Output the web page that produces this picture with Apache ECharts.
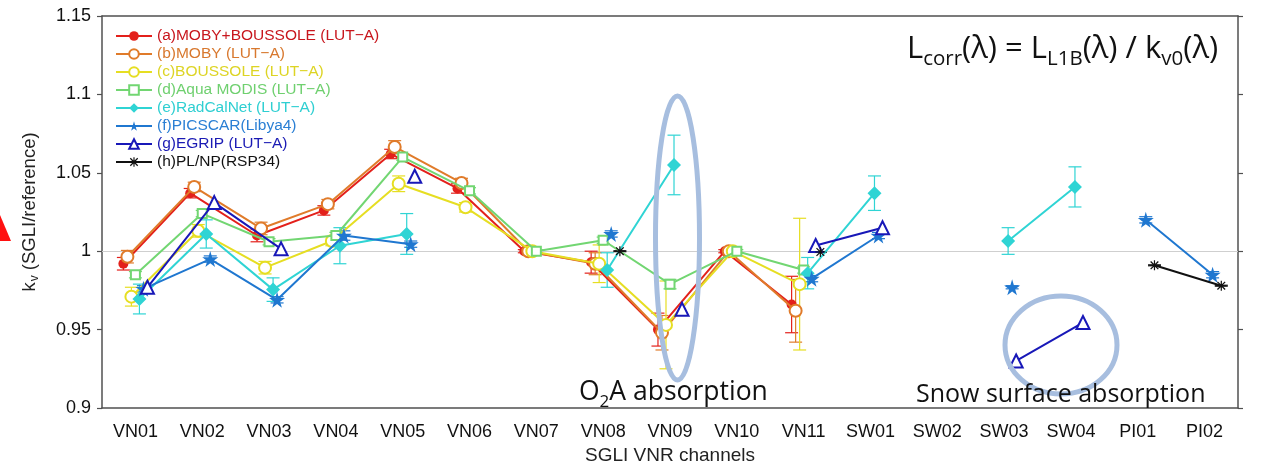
<!DOCTYPE html>
<html><head><meta charset="utf-8">
<script src="https://cdn.jsdelivr.net/npm/echarts@6/dist/echarts.min.js"></script>
<style>html,body{margin:0;padding:0;background:#fff}#c{width:1265px;height:470px}</style>
</head><body><div id="c"></div>
<script>
// ---------- data ----------
const categories = ['VN01','VN02','VN03','VN04','VN05','VN06','VN07','VN08','VN09','VN10','VN11','SW01','SW02','SW03','SW04','PI01','PI02'];
const N = null;
const nameA = '(a)MOBY+BOUSSOLE (LUT−A)';
const nameB = '(b)MOBY (LUT−A)';
const nameC = '(c)BOUSSOLE (LUT−A)';
const nameD = '(d)Aqua MODIS (LUT−A)';
const nameE = '(e)RadCalNet (LUT−A)';
const nameF = '(f)PICSCAR(Libya4)';
const nameG = '(g)EGRIP (LUT−A)';
const nameH = '(h)PL/NP(RSP34)';

const valA = [0.992, 1.037, 1.010, 1.026, 1.062, 1.040, 1.000, 0.993, 0.950, 1.000, 0.966, N, N, N, N, N, N];
const errA = [0.004, 0.003, 0.004, 0.003, 0.003, 0.003, 0.001, 0.007, 0.0105, 0.001, 0.018, N, N, N, N, N, N];
const valB = [0.9965, 1.041, 1.0145, 1.030, 1.0665, 1.0435, 1.000, 0.992, 0.948, 1.000, 0.962, N, N, N, N, N, N];
const errB = [0.004, 0.003, 0.004, 0.003, 0.004, 0.003, 0.001, 0.007, 0.011, 0.001, 0.020, N, N, N, N, N, N];
const valC = [0.971, 1.013, 0.9895, 1.0065, 1.043, 1.028, 1.000, 0.992, 0.953, 1.000, 0.979, N, N, N, N, N, N];
const errC = [0.006, 0.004, 0.004, 0.003, 0.005, 0.003, 0.001, 0.012, 0.028, 0.001, 0.042, N, N, N, N, N, N];
const valD = [0.985, 1.024, 1.006, 1.010, 1.060, 1.0385, 1.000, 1.007, 0.979, 1.000, 0.988, N, N, N, N, N, N];
const errD = [0.002, 0.002, 0.002, 0.002, 0.002, 0.002, 0.001, 0.002, 0.003, 0.001, 0.002, N, N, N, N, N, N];
const valE = [0.9695, 1.011, 0.9755, 1.0035, 1.011, N, N, 0.988, 1.055, N, 0.986, 1.037, N, 1.0065, 1.041, N, N];
const errE = [0.0095, 0.009, 0.0075, 0.0115, 0.013, N, N, 0.011, 0.019, N, 0.010, 0.011, N, 0.0085, 0.0128, N, N];
const valF = [0.976, 0.995, 0.969, 1.010, 1.0045, N, N, 1.011, N, N, 0.9825, 1.010, N, 0.977, N, 1.020, 0.985];
const errF = [0.002, 0.002, 0.002, 0.003, 0.002, N, N, 0.002, N, N, 0.002, 0.002, N, 0.001, N, 0.002, 0.002];
const valG = [0.977, 1.031, 1.0015, N, 1.0478, N, N, N, 0.963, N, 1.0036, 1.015, N, 0.930, 0.9545, N, N];
const valH = [N, N, N, N, N, N, N, 1.000, N, N, 0.9995, N, N, N, N, 0.991, 0.978];
const errH = [N, N, N, N, N, N, N, 0.0003, N, N, 0.0003, N, N, N, N, 0.0003, 0.0003];

// ---------- styling ----------
const STAR = 'path://M50,0 L61,35 L98,35 L68,57 L79,91 L50,70 L21,91 L32,57 L2,35 L39,35 Z';
const ASTER = 'path://M0,44 L100,44 L100,56 L0,56 Z M44,0 L56,0 L56,100 L44,100 Z M16,7 L93,84 L84,93 L7,16 Z M84,7 L93,16 L16,93 L7,84 Z';
const defs = [
  {name:nameA, val:valA, err:errA, color:'#e3201b', text:'#c8161d', symbol:'circle', size:10, off:-0.18},
  {name:nameB, val:valB, err:errB, color:'#e07b2a', text:'#d8782e', symbol:'emptyCircle', size:12, off:-0.12},
  {name:nameC, val:valC, err:errC, color:'#e6de22', text:'#ddd424', symbol:'emptyCircle', size:12, off:-0.06},
  {name:nameD, val:valD, err:errD, color:'#72d672', text:'#6fd06f', symbol:'emptyRect', size:9, off:0},
  {name:nameE, val:valE, err:errE, color:'#2fd4d4', text:'#2fcfd2', symbol:'diamond', size:14, off:0.06},
  {name:nameF, val:valF, err:errF, color:'#1f77d0', text:'#2a7fd4', symbol:STAR, size:16, off:0.12},
  {name:nameG, val:valG, err:null, color:'#1818b8', text:'#1a1ab4', symbol:'emptyTriangle', size:13, off:0.18},
  {name:nameH, val:valH, err:errH, color:'#111111', text:'#111111', symbol:ASTER, size:10, off:0.25}
];

function errRender(color){
  return function(params, api){
    const x = api.value(0), lo = api.value(1), hi = api.value(2);
    const p1 = api.coord([x, lo]), p2 = api.coord([x, hi]);
    const w = 6.5, st = {stroke: color, lineWidth: 1.2};
    return {type:'group', children:[
      {type:'line', shape:{x1:p1[0], y1:p1[1], x2:p2[0], y2:p2[1]}, style:st},
      {type:'line', shape:{x1:p1[0]-w, y1:p1[1], x2:p1[0]+w, y2:p1[1]}, style:st},
      {type:'line', shape:{x1:p2[0]-w, y1:p2[1], x2:p2[0]+w, y2:p2[1]}, style:st}
    ]};
  };
}

const series = [];
defs.forEach((d, k) => {
  if (d.err) {
    const eb = [];
    d.val.forEach((v, i) => { if (v != null && d.err[i] != null) eb.push([i + d.off, v - d.err[i], v + d.err[i]]); });
    series.push({type:'custom', xAxisIndex:1, yAxisIndex:0, renderItem: errRender(d.color), data: eb,
      encode:{x:0, y:[1,2]}, z: 2 + k, silent:true});
  }
});
defs.forEach((d, k) => {
  const s = {
    name: d.name, type:'line', xAxisIndex:1, yAxisIndex:0,
    data: d.val.map((v, i) => [i + d.off, v]),
    symbol: d.symbol, symbolSize: d.size, showAllSymbol: true,
    lineStyle: {color: d.color, width: 2},
    itemStyle: {color: d.color, borderColor: d.color, borderWidth: d.symbol.indexOf('empty') === 0 ? 1.6 : 0},
    connectNulls: false, z: 10 + k, animation: false
  };
  if (k === 0) {
    s.markLine = {silent:true, symbol:'none', label:{show:false},
      lineStyle:{color:'#cfcfcf', width:1, type:'solid'}, data:[{yAxis:1.0}], z:1, animation:false};
  }
  series.push(s);
});

const axisColor = '#505050';
const font = 'Liberation Sans, Arial, sans-serif';
const annFont = 'Open Sans, Noto Sans, sans-serif';

const chart = echarts.init(document.getElementById('c'), null, {renderer:'canvas'});
chart.setOption({
  animation: false,
  backgroundColor: '#fff',
  grid: {left:102, right:27, top:16, bottom:58, containLabel:false},
  legend: {
    orient:'vertical', left:110, top:22, itemWidth:36, itemHeight:12, itemGap:0,
    textStyle:{fontFamily:font, fontSize:15.5, lineHeight:18},
    data: defs.map(d => ({name:d.name, textStyle:{color:d.text}})),
    selectedMode:false
  },
  xAxis: [
    {type:'category', data:categories, position:'bottom', boundaryGap:true,
     axisLine:{onZero:false, lineStyle:{color:axisColor, width:1.5}},
     axisTick:{alignWithLabel:true, length:5, lineStyle:{color:axisColor, width:1.2}},
     axisLabel:{color:'#111', fontFamily:font, fontSize:18, margin:15, interval:0},
     name:'SGLI VNR channels', nameLocation:'middle', nameGap:38,
     nameTextStyle:{color:'#222', fontFamily:font, fontSize:19}},
    {type:'value', min:-0.5, max:16.5, show:false},
    {type:'category', data:categories, position:'top', boundaryGap:true,
     axisLine:{onZero:false, lineStyle:{color:axisColor, width:1.5}},
     axisTick:{alignWithLabel:true, length:5, lineStyle:{color:axisColor, width:1.2}},
     axisLabel:{show:false}}
  ],
  yAxis: [
    {type:'value', min:0.9, max:1.15, interval:0.05, position:'left',
     axisLine:{show:true, onZero:false, lineStyle:{color:axisColor, width:1.5}},
     axisTick:{show:true, length:5, lineStyle:{color:axisColor, width:1.2}},
     splitLine:{show:false},
     axisLabel:{color:'#111', fontFamily:font, fontSize:18, margin:11},
     name:'{k|k}{v|v}{k| (SGLI/reference)}', nameLocation:'middle', nameRotate:90, nameGap:61,
     nameTextStyle:{rich:{
       k:{fontFamily:font, fontSize:18.5, color:'#222', lineHeight:22},
       v:{fontFamily:font, fontSize:12, color:'#222', lineHeight:22, verticalAlign:'bottom', padding:[0,0,0,1]}
     }}},
    {type:'value', min:0.9, max:1.15, interval:0.05, position:'right',
     axisLine:{show:true, onZero:false, lineStyle:{color:axisColor, width:1.5}},
     axisTick:{show:true, length:5, lineStyle:{color:axisColor, width:1.2}},
     splitLine:{show:false}, axisLabel:{show:false}}
  ],
  series: series,
  graphic: [
    {type:'polygon', shape:{points:[[0,215],[11,241],[0,241]]}, style:{fill:'#ff1010'}, z:100},
    {type:'ellipse', shape:{cx:677.5, cy:238, rx:22, ry:142}, style:{fill:'none', stroke:'#a7bedf', lineWidth:5}, z:100},
    {type:'ellipse', shape:{cx:1061, cy:345, rx:56, ry:49}, style:{fill:'none', stroke:'#a7bedf', lineWidth:5}, z:100},
    {type:'text', left:907, top:34, z:101, style:{
      text:'{m|L}{s|corr}{m|(λ) = L}{s|L1B}{m|(λ) / k}{s|v0}{m|(λ)}',
      rich:{
        m:{fontFamily:annFont, fontSize:31, lineHeight:40, fill:'#111'},
        s:{fontFamily:annFont, fontSize:20.5, lineHeight:22, verticalAlign:'bottom', fill:'#111'}
      }}},
    {type:'text', left:579, top:379, z:101, style:{
      text:'{m|O}{s|2}{m|A absorption}',
      rich:{
        m:{fontFamily:annFont, fontSize:26.5, lineHeight:36, fill:'#111'},
        s:{fontFamily:annFont, fontSize:17, lineHeight:19, verticalAlign:'bottom', fill:'#111'}
      }}},
    {type:'text', left:916, top:382, z:101, style:{
      text:'Snow surface absorption', fontFamily:annFont, fontSize:25, fill:'#111'}}
  ]
});
</script>
</body></html>
